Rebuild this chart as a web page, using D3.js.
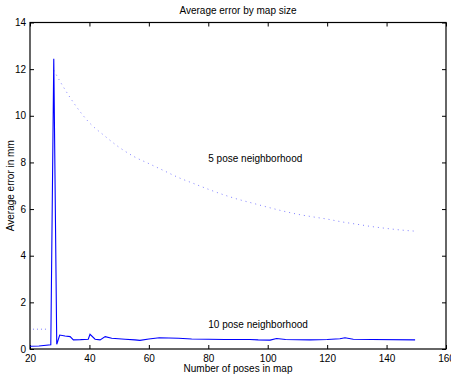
<!DOCTYPE html>
<html>
<head>
<meta charset="utf-8">
<script src="https://cdn.jsdelivr.net/npm/d3@7.9.0/dist/d3.min.js"></script>
<style>
  body { margin: 0; background: #fff; }
  svg { display: block; font-family: "Liberation Sans", Arial, sans-serif; }
</style>
</head>
<body>
<svg width="451" height="375"></svg>
<script>
// 10 pose neighborhood (solid)
const tenX = [20, 23, 27, 28, 29, 30, 31.8, 33.5, 34.6, 37, 39.6, 40.2, 41.9, 43.6, 45.3, 47.5, 52, 55.3, 57, 60, 63.5, 70, 74.4, 80, 85.6, 94, 96.8, 100.8, 103, 106, 114.2, 120, 124.3, 126, 128.8, 135, 149.6];
const tenY = [0.12, 0.13, 0.18, 12.45, 0.2, 0.6, 0.56, 0.53, 0.39, 0.4, 0.42, 0.63, 0.42, 0.39, 0.53, 0.46, 0.42, 0.39, 0.37, 0.43, 0.48, 0.46, 0.43, 0.42, 0.41, 0.41, 0.39, 0.38, 0.45, 0.41, 0.39, 0.41, 0.44, 0.48, 0.42, 0.41, 0.39];

// 5 pose neighborhood (dotted)
const fiveStartX = [21, 26];
const fiveStartY = [0.85, 0.85];
const fiveX = [28, 30, 35, 40, 45, 50, 55, 60, 65, 70, 75, 80, 85, 90, 95, 100, 105, 110, 115, 120, 125, 130, 135, 140, 145, 150];
const fiveY = [11.95, 11.5, 10.5, 9.7, 9.15, 8.65, 8.25, 7.95, 7.65, 7.35, 7.1, 6.85, 6.62, 6.42, 6.25, 6.08, 5.92, 5.78, 5.67, 5.57, 5.45, 5.35, 5.25, 5.17, 5.1, 5.05];

const xTicks = [20, 40, 60, 80, 100, 120, 140, 160];
const yTicks = [0, 2, 4, 6, 8, 10, 12, 14];

const svg = d3.select("svg");
const plotL = 30, plotR = 446, plotT = 22.5, plotB = 349;

const x = d3.scaleLinear().domain([20, 160]).range([plotL, plotR]);
const y = d3.scaleLinear().domain([0, 14]).range([plotB, plotT]);

// plot box
svg.append("rect")
  .attr("x", plotL).attr("y", plotT)
  .attr("width", plotR - plotL).attr("height", plotB - plotT)
  .attr("fill", "none").attr("stroke", "#000").attr("stroke-width", 1.2);

// ticks pointing inward on all four sides
const tickLen = 4;
svg.append("g")
  .attr("transform", `translate(0,${plotB})`)
  .call(d3.axisBottom(x).tickValues(xTicks).tickSizeInner(-tickLen).tickSizeOuter(0).tickPadding(6))
  .call(g => g.select(".domain").remove());
svg.append("g")
  .attr("transform", `translate(0,${plotT})`)
  .call(d3.axisTop(x).tickValues(xTicks).tickSizeInner(-tickLen).tickSizeOuter(0).tickFormat(""))
  .call(g => g.select(".domain").remove());
svg.append("g")
  .attr("transform", `translate(${plotL},0)`)
  .call(d3.axisLeft(y).tickValues(yTicks).tickSizeInner(-tickLen).tickSizeOuter(0).tickPadding(4))
  .call(g => g.select(".domain").remove());
svg.append("g")
  .attr("transform", `translate(${plotR},0)`)
  .call(d3.axisRight(y).tickValues(yTicks).tickSizeInner(-tickLen).tickSizeOuter(0).tickFormat(""))
  .call(g => g.select(".domain").remove());

svg.selectAll(".tick text")
  .attr("font-size", 10)
  .attr("font-family", "'Liberation Sans', Arial, sans-serif")
  .attr("fill", "#000");
svg.selectAll(".tick line").attr("stroke", "#000");

const line = d3.line().x(d => x(d[0])).y(d => y(d[1]));

svg.append("path")
  .datum(fiveStartX.map((v, i) => [v, fiveStartY[i]]))
  .attr("d", line)
  .attr("fill", "none").attr("stroke", "#7f7fff").attr("stroke-width", 1)
  .attr("stroke-dasharray", "1,3");

svg.append("path")
  .datum(fiveX.map((v, i) => [v, fiveY[i]]))
  .attr("d", d3.line().curve(d3.curveMonotoneX).x(d => x(d[0])).y(d => y(d[1])))
  .attr("fill", "none").attr("stroke", "#7f7fff").attr("stroke-width", 1)
  .attr("stroke-dasharray", "1,4");

svg.append("path")
  .datum(tenX.map((v, i) => [v, tenY[i]]))
  .attr("d", line)
  .attr("fill", "none").attr("stroke", "#0000ff").attr("stroke-width", 1.1);

// labels
svg.append("text")
  .attr("x", (plotL + plotR) / 2).attr("y", 14)
  .attr("text-anchor", "middle").attr("font-size", 10)
  .text("Average error by map size");

svg.append("text")
  .attr("x", (plotL + plotR) / 2).attr("y", 372)
  .attr("text-anchor", "middle").attr("font-size", 10)
  .text("Number of poses in map");

svg.append("text")
  .attr("transform", `translate(14,${(plotT + plotB) / 2}) rotate(-90)`)
  .attr("text-anchor", "middle").attr("font-size", 10)
  .text("Average error in mm");

svg.append("text")
  .attr("x", x(80)).attr("y", y(8.0))
  .attr("font-size", 10)
  .text("5 pose neighborhood");

svg.append("text")
  .attr("x", x(80)).attr("y", y(0.88))
  .attr("font-size", 10)
  .text("10 pose neighborhood");
</script>
</body>
</html>
